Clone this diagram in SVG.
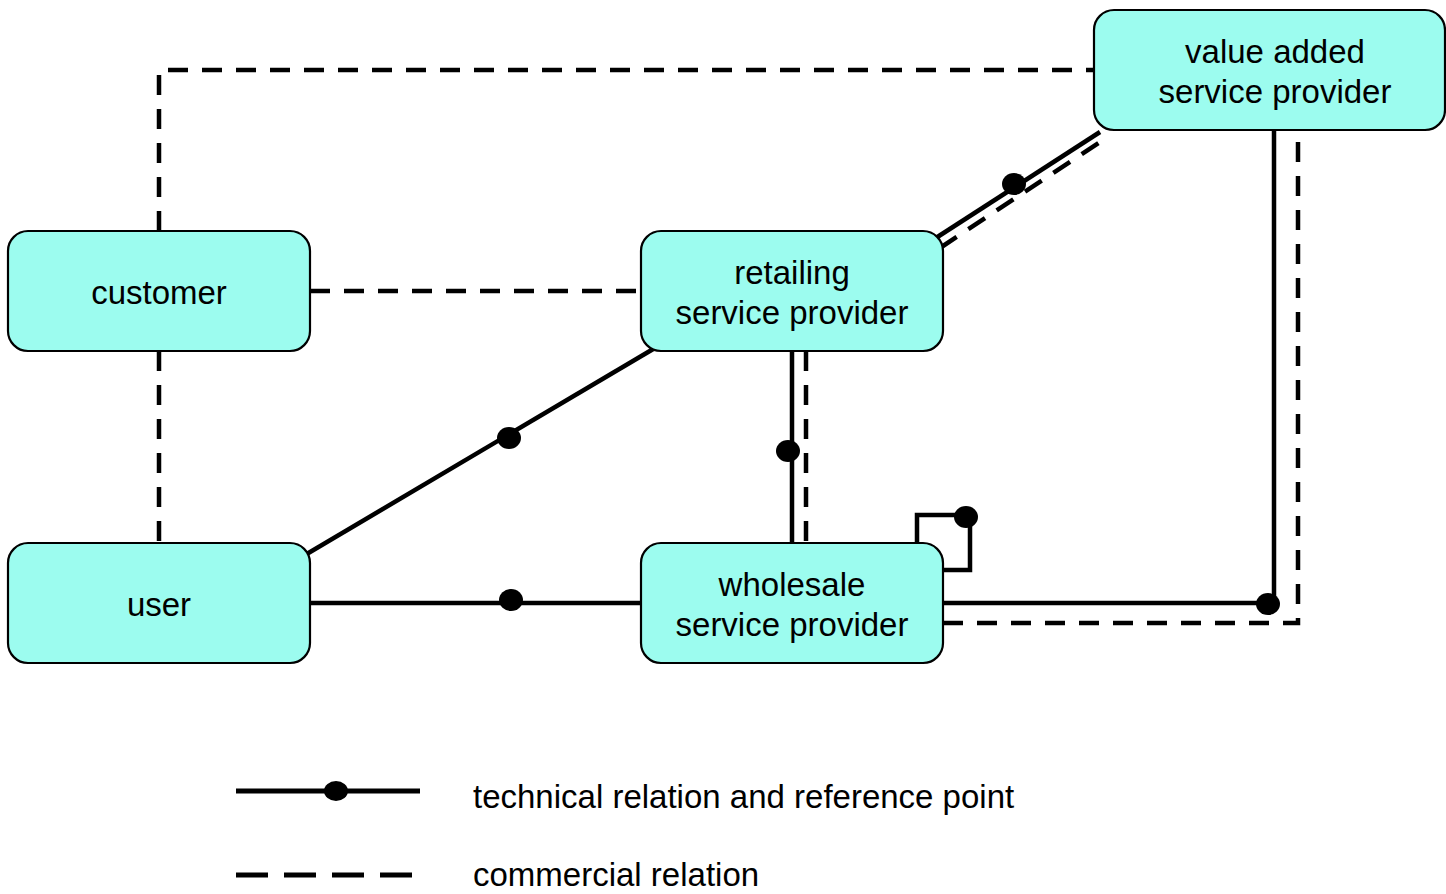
<svg xmlns="http://www.w3.org/2000/svg" width="1446" height="894" viewBox="0 0 1446 894">
<style>
.node{fill:#9cfcef;stroke:#000;stroke-width:2.2}
.lbl{font-family:"Liberation Sans",Arial,sans-serif;font-size:33px;fill:#000;text-anchor:middle}
.leg{font-family:"Liberation Sans",Arial,sans-serif;font-size:33px;fill:#000}
.tech{fill:none;stroke:#000;stroke-width:4.5}
.comm{fill:none;stroke:#000;stroke-width:4.5;stroke-dasharray:20 14}
.dot{fill:#000}
</style>
<rect width="1446" height="894" fill="#fff"/>
<g id="connectors">
  <path class="comm" d="M159,231 V70 H1094"/>
  <path class="comm" d="M310,291 H641"/>
  <path class="comm" d="M159,351 V543"/>
  <path class="comm" d="M806,351 V543"/>
  <path class="comm" d="M940,248 L1106,138"/>
  <path class="comm" d="M943,623 H1298 V130"/>
  <path class="tech" d="M300,558 L660,345"/>
  <path class="tech" d="M310,603 H641"/>
  <path class="tech" d="M792,351 V543"/>
  <path class="tech" d="M925,245 L1100,132"/>
  <path class="tech" d="M943,603 H1274 V130"/>
  <path class="tech" d="M917,545 V515 H970 V570 H943"/>
  <ellipse class="dot" cx="509" cy="438" rx="12" ry="11"/>
  <ellipse class="dot" cx="511" cy="600" rx="12" ry="11"/>
  <ellipse class="dot" cx="788" cy="451" rx="12" ry="11"/>
  <ellipse class="dot" cx="1014" cy="184" rx="12" ry="11"/>
  <ellipse class="dot" cx="1268" cy="604" rx="12" ry="11"/>
  <ellipse class="dot" cx="966" cy="517" rx="12" ry="11"/>
</g>
<g id="customer">
  <rect class="node" x="8" y="231" width="302" height="120" rx="20"/>
  <text class="lbl" x="159" y="304">customer</text>
</g>
<g id="user">
  <rect class="node" x="8" y="543" width="302" height="120" rx="20"/>
  <text class="lbl" x="159" y="616">user</text>
</g>
<g id="retailing">
  <rect class="node" x="641" y="231" width="302" height="120" rx="20"/>
  <text class="lbl" x="792" y="284">retailing</text>
  <text class="lbl" x="792" y="324">service provider</text>
</g>
<g id="wholesale">
  <rect class="node" x="641" y="543" width="302" height="120" rx="20"/>
  <text class="lbl" x="792" y="596">wholesale</text>
  <text class="lbl" x="792" y="636">service provider</text>
</g>
<g id="vasp">
  <rect class="node" x="1094" y="10" width="351" height="120" rx="20"/>
  <text class="lbl" x="1275" y="63">value added</text>
  <text class="lbl" x="1275" y="103">service provider</text>
</g>
<g id="legend">
  <line x1="236" y1="791" x2="420" y2="791" stroke="#000" stroke-width="5"/>
  <ellipse class="dot" cx="336" cy="791" rx="12" ry="10"/>
  <text class="leg" x="473" y="808">technical relation and reference point</text>
  <line x1="236" y1="875" x2="420" y2="875" stroke="#000" stroke-width="5" stroke-dasharray="32 16"/>
  <text class="leg" x="473" y="886">commercial relation</text>
</g>
</svg>
